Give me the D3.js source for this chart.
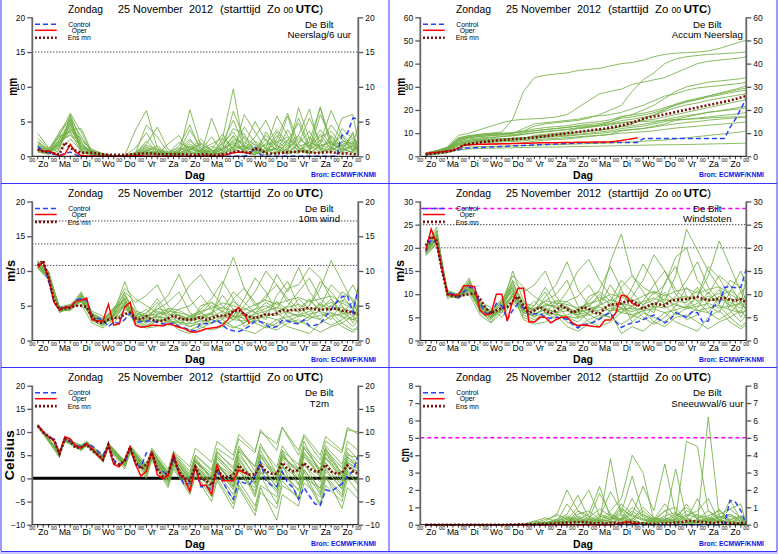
<!DOCTYPE html>
<meta charset="utf-8">
<script src="https://d3js.org/d3.v7.min.js"></script>
<body style="margin:0;background:#fff">
<div id="chart"></div>
</body>
<script>
// ---------- data ----------
const dayNames = ["Zo", "Ma", "Di", "Wo", "Do", "Vr", "Za", "Zo", "Ma", "Di", "Wo", "Do", "Vr", "Za", "Zo"];

// time grids (hours after start)
const hours6 = d3.range(6, 361, 6);                       // control / mean
const hoursOper = d3.range(6, 241, 6);                    // oper runs 10 days
const memberHours = d3.range(6, 360, 12).concat([360]);   // ensemble members
const memberHoursT2m = d3.range(0, 15).flatMap(d => [24 * d + 6, 24 * d + 12]).concat([360]);

// Neerslag / 6 uur (mm)
const precipControl = [1.4,0.8,0.5,0.3,0.1,0.4,0.6,0.2,0,0, 0,0,0,0,0,0,0,0,0,0, 0,0,0,0,0,0,0,0,0,0, 0,0,0,0,0,0,0,0,0,0.3, 1.3,0.2,0,0,0,0,0,0,0,0, 0,0,0,0,0,0,3.0,3.3,5.5,5.4];
const precipOper = [1.0,0.7,0.8,0.4,0.1,0.3,1.7,0.6,0.1,0.05, 0.05,0,0,0,0,0,0,0.05,0.1,0.05, 0,0,0,0,0,0,0,0,0,0, 0,0,0,0,0.1,0.3,0.5,0.6,0.6,0.4];
const precipMean = [1.0,0.7,0.6,0.4,0.3,2.0,1.2,0.8,0.5,0.5, 0.5,0.4,0.3,0.2,0.2,0.2,0.2,0.3,0.3,0.4, 0.4,0.4,0.3,0.3,0.3,0.3,0.3,0.3,0.2,0.2, 0.3,0.3,0.2,0.2,0.3,0.4,0.6,0.7,0.6,0.5, 1.2,0.9,0.4,0.4,0.4,0.5,0.6,0.6,0.7,0.7, 0.6,0.5,0.5,0.6,0.6,0.5,0.4,0.4,0.3,0.3];
const precipMembers = [
  [1.5,0.8,3.5,5.8,0.5,0.3,0.1,0,0,0.2, 1.0,0.3,0.1,0.4,1.5,0.6,0.2,2.5,9.7,1.0, 0.4,0.8,3.5,1.5,0.5,2.2,7.0,1.2,0.6,2.0, 0.8],
  [0.9,0.5,2.0,4.5,1.8,0.4,0,0,0.1,3.8, 6.6,1.2,0.3,0.2,0.8,2.0,0.5,0.3,1.2,4.2, 2.0,0.5,1.5,5.8,0.9,0.3,1.8,4.5,2.5,1.0, 0.5],
  [3.3,1.2,1.5,3.8,4.0,0.6,0.2,0,0,0.5, 4.5,2.8,0.6,0.3,6.7,1.5,0.4,1.0,3.0,0.5, 0.2,3.5,1.2,0.4,7.0,2.5,0.8,3.0,1.2,0.5, 0.3],
  [1.2,0.6,1.0,6.0,2.2,1.0,0.3,0.1,0,0.1, 0.3,0.2,1.8,3.0,0.5,0.2,5.5,1.5,0.6,6.0, 3.5,1.0,0.3,2.2,4.8,1.0,7.1,2.0,0.6,1.5, 4.5],
  [0.8,0.3,2.5,5.2,0.8,0.4,0.1,0.1,0,0.4, 2.2,0.6,0.2,1.0,2.5,0.5,1.0,3.2,0.8,1.5, 5.0,2.2,0.8,0.3,1.8,5.5,2.0,6.6,3.0,0.8, 1.2],
  [1.8,0.9,1.8,4.0,1.2,0.8,0,0,0.1,1.2, 3.4,0.8,0.4,0.6,3.8,1.2,0.2,0.6,2.0,0.6, 0.3,1.2,5.8,3.0,0.6,0.9,3.2,1.0,5.5,6.0, 2.0],
  [1.0,0.4,3.0,6.2,3.5,0.5,0.1,0,0,0, 0.5,0.3,0.2,0.3,0.6,0.3,0.4,0.9,6.5,2.5, 1.0,0.5,2.5,6.2,1.8,0.4,1.5,2.0,0.8,3.5, 1.0],
  [2.2,0.8,1.2,4.8,1.0,0.3,0.2,0,0,0.2, 0.8,1.5,0.4,2.0,1.2,0.3,0.2,1.5,4.0,3.2, 0.5,0.2,0.6,1.0,3.0,6.8,1.0,0.5,2.2,1.8, 0.6],
  [1.4,0.6,2.2,3.0,1.5,0.9,0.4,0.1,0,0.6, 1.8,4.2,1.0,0.4,0.3,0.8,2.8,0.6,2.2,1.0, 2.8,5.2,1.6,0.8,0.4,2.8,1.2,0.8,4.0,2.5, 1.5],
  [0.6,0.3,0.8,2.5,0.8,0.2,0,0,0,0.1, 0.2,0.6,0.2,0.1,0.4,0.2,0.1,0.4,1.0,0.5, 0.3,0.6,1.2,0.4,0.8,0.6,0.5,1.2,0.4,0.8, 0.3],
  [1.1,0.7,1.6,5.5,2.8,0.6,0.3,0.1,0.1,0.3, 1.4,0.5,0.3,1.5,4.5,0.8,0.3,2.0,5.2,1.5, 0.6,2.5,0.8,3.8,1.2,0.5,6.0,2.5,1.0,0.6, 2.8],
  [2.0,1.0,2.8,3.5,0.6,0.3,0.1,0,0,0.2, 0.6,0.4,0.1,0.5,1.0,2.5,0.8,0.2,1.6,0.8, 1.8,0.6,3.0,1.2,5.5,1.5,0.6,1.8,1.0,3.2, 0.6],
  [1.3,0.6,2.4,4.2,1.4,0.5,0.2,0,0,0.3, 1.2,0.9,0.3,0.6,2.2,1.0,0.6,1.8,3.5,1.2, 0.8,1.6,2.2,1.0,2.6,1.4,3.8,1.6,2.0,1.2, 0.9],
  [0.7,0.4,1.9,5.0,2.0,0.3,0.1,0,0,0.1, 0.6,0.3,0.2,0.8,1.8,0.6,1.4,0.8,2.4,2.0, 1.0,3.0,1.5,0.6,1.8,3.6,1.0,2.8,1.4,2.2, 1.0],
  [1.6,0.9,2.9,3.6,2.6,0.7,0.2,0.1,0,0.2, 0.9,0.5,0.5,0.3,0.9,1.8,0.9,0.5,1.4,2.8, 1.6,0.7,2.0,2.8,1.2,0.8,2.4,1.2,3.2,1.4, 0.7],
  [1.0,0.5,1.4,4.6,1.6,0.4,0.1,0,0,0.1, 0.4,0.7,0.3,0.4,1.2,0.5,0.8,1.2,1.8,0.9, 2.2,1.2,0.6,1.8,3.0,1.0,1.8,0.9,1.6,2.6, 1.8],
  [2.6,1.1,3.2,5.4,1.1,0.6,0.3,0.1,0,0.4, 1.6,1.0,0.6,1.2,0.7,0.9,1.8,2.6,1.1,1.6, 0.9,1.8,3.8,2.0,0.8,1.6,2.8,3.6,1.6,0.9, 1.4],
  [0.9,0.5,2.2,3.2,1.9,0.5,0.2,0,0,0.2, 0.7,0.4,0.2,0.9,1.4,0.7,0.4,1.0,2.8,1.4, 0.6,0.9,1.0,2.4,1.4,2.0,1.4,2.2,0.9,1.6, 0.8]
];

// Accum Neerslag (mm)
const accumControl = [1.0,1.2,1.5,1.8,2.2,2.5,2.7,3.5,3.6,3.7, 3.8,3.9,4.0,4.1,4.2,4.3,4.5,4.6,4.7,4.8, 4.9,5.0,5.1,5.2,5.3,5.4,5.5,5.6,5.7,5.8, 5.8,5.9,5.9,6.0,6.0,6.0,6.0,6.0,6.0,6.0, 7.6,7.7,7.7,7.7,7.7,7.7,7.7,7.7,7.7,7.7, 7.7,7.7,7.7,7.7,7.7,7.7,12.5,16.0,20.5,25.0];
const accumOper = [1.2,1.5,1.8,2.0,2.3,2.6,3.5,4.8,5.0,5.1, 5.2,5.2,5.3,5.3,5.4,5.4,5.5,5.5,5.6,5.6, 5.7,5.8,5.8,5.9,5.9,6.0,6.0,6.0,6.1,6.1, 6.1,6.2,6.2,6.2,6.3,6.5,6.8,7.2,7.6,8.0];
const accumMean = [0.8,1.1,1.4,1.7,2.0,2.5,3.5,4.8,5.3,5.7, 6.0,6.3,6.6,6.8,7.0,7.2,7.4,7.5,7.7,7.9, 8.1,8.4,8.7,9.0,9.3,9.6,9.9,10.2,10.5,10.8, 11.1,11.4,11.7,12.0,12.4,12.8,13.3,13.9,14.5,15.3, 16.2,16.8,17.2,17.6,18.1,18.6,19.1,19.6,20.1,20.6, 21.1,21.6,22.1,22.6,23.1,23.6,24.1,24.7,25.4,26.0];
const accumMembers = [
  [1.2,2.2,3.5,7.0,8.5,9.5,10.0,10.5,16.0,28.0, 34.0,35.0,35.5,36.0,37.0,37.5,38.0,39.0,40.0,40.5, 41.5,43.0,44.0,44.5,44.8,45.0,45.5,46.5,48.0,49.5, 50.0],
  [1.0,2.0,3.0,6.5,8.0,8.5,9.0,9.5,10.0,11.0, 13.0,14.0,14.5,15.0,15.5,16.5,18.0,20.0,22.0,28.0, 33.0,36.0,40.0,42.0,43.0,43.5,44.0,44.2,44.5,44.8, 45.0],
  [1.5,2.5,4.0,9.0,10.0,11.5,13.0,14.5,15.5,16.0, 16.2,16.5,17.0,18.0,21.0,24.0,27.0,28.0,29.0,31.0, 32.0,33.0,34.0,36.0,38.0,40.0,41.0,41.5,42.0,42.5, 43.0],
  [0.8,1.8,2.8,6.0,7.0,7.5,8.0,8.5,9.0,9.5, 10.0,10.5,11.0,11.5,12.0,12.5,13.5,15.0,17.0,18.0, 20.0,22.0,25.0,28.0,30.0,31.0,32.0,32.5,33.0,33.5, 34.0],
  [1.0,2.0,3.5,7.5,8.5,9.0,9.2,9.5,9.8,12.0, 14.0,14.5,15.0,15.5,16.0,17.0,17.5,18.0,19.0,20.5, 22.0,24.0,26.0,27.0,28.5,29.5,30.0,30.5,31.0,31.5, 32.0],
  [1.2,2.3,3.2,5.5,6.5,7.0,7.3,7.5,7.8,8.0, 8.5,9.0,9.5,10.0,10.5,11.0,11.5,12.0,13.0,14.0, 16.0,18.0,20.0,22.5,24.0,25.0,26.0,27.0,28.0,29.0, 29.5],
  [0.9,1.6,2.6,5.0,6.0,6.4,6.6,6.8,7.0,7.5, 9.0,9.5,10.0,10.5,12.0,12.5,13.0,13.5,14.5,15.0, 15.5,16.0,17.0,18.0,19.0,20.0,21.0,22.0,23.0,24.0, 24.5],
  [1.1,2.1,3.0,6.2,7.0,7.3,7.5,7.6,7.8,8.0, 8.2,8.5,8.8,9.0,9.5,10.0,10.5,11.0,12.0,12.5, 13.0,14.0,15.0,16.0,17.0,18.0,19.0,19.5,20.0,20.5, 21.0],
  [0.7,1.3,2.2,4.5,5.0,5.2,5.3,5.4,5.5,5.8, 6.5,7.0,7.2,7.5,8.0,8.5,9.0,9.5,11.0,11.5, 12.0,13.0,14.0,15.5,16.0,16.5,17.0,17.5,18.0,18.5, 19.0],
  [1.3,2.4,3.8,8.0,9.0,9.5,9.8,10.0,10.2,10.5, 11.0,11.5,12.0,12.5,13.0,13.2,13.5,14.0,14.5,14.8, 15.0,15.2,15.5,15.8,16.0,16.2,16.5,16.8,17.0,17.0, 17.0],
  [0.6,1.0,1.8,3.5,4.0,4.2,4.3,4.4,4.5,4.6, 4.8,5.0,5.0,5.2,5.3,5.5,5.6,5.8,6.0,6.2, 6.5,6.8,7.0,7.5,8.0,8.5,9.0,9.5,10.0,10.5, 11.0],
  [0.5,0.9,1.5,2.8,3.2,3.4,3.5,3.6,3.7,3.8, 3.9,4.0,4.0,4.1,4.2,4.3,4.4,4.5,4.6,4.7, 4.8,4.9,5.0,5.0,5.1,5.2,5.3,5.4,5.5,5.6, 5.7],
  [1.0,1.9,3.1,6.8,7.6,8.0,8.3,8.5,8.8,9.4, 10.2,10.8,11.2,11.6,12.4,13.0,13.4,14.2,15.4,16.0, 16.8,17.8,19.4,21.0,22.2,23.0,24.2,25.0,25.8,26.6, 27.0],
  [0.9,1.7,2.7,5.6,6.4,6.8,7.0,7.2,7.4,7.9, 8.6,9.0,9.3,9.6,10.3,10.8,11.2,11.8,12.8,13.2, 13.8,14.6,15.8,16.8,17.6,18.2,19.0,19.6,20.4,21.2, 21.6],
  [1.3,2.4,3.6,7.8,8.8,9.2,9.5,9.7,10.0,10.8, 11.8,12.4,12.8,13.2,14.0,14.6,15.0,15.8,17.2,17.8, 18.6,19.6,21.0,22.4,23.6,24.6,26.0,27.2,28.4,29.6, 30.5],
  [0.8,1.5,2.5,5.2,6.0,6.3,6.5,6.7,6.9,7.2, 7.8,8.2,8.4,8.7,9.2,9.6,9.9,10.4,11.2,11.6, 12.0,12.6,13.4,14.0,14.6,15.0,15.6,16.0,16.4,16.8, 17.0],
  [1.1,2.0,3.3,7.2,8.2,8.6,8.9,9.1,9.4,10.0, 11.0,11.6,12.0,12.4,13.2,13.8,14.2,15.0,16.4,17.0, 17.8,18.8,20.4,22.0,23.4,24.4,25.6,26.4,27.4,28.2, 28.6],
  [0.7,1.4,2.3,4.8,5.5,5.8,6.0,6.2,6.4,6.7, 7.2,7.5,7.7,8.0,8.4,8.8,9.0,9.4,10.0,10.3, 10.6,11.0,11.6,12.2,12.6,13.0,13.4,13.8,14.2,14.6, 14.8]
];

// 10m wind (m/s)
const windControl = [10.8,11.2,8.5,5.5,4.4,5.0,4.6,5.8,6.0,5.8, 3.6,3.2,3.0,2.0,2.6,2.5,3.0,4.0,2.6,2.7, 2.8,2.8,2.6,2.4,2.3,2.5,2.0,1.8,1.5,1.4, 2.5,2.4,2.5,3.0,2.2,1.6,1.4,1.3,1.6,2.1, 2.8,2.7,2.3,1.8,2.0,2.9,2.8,2.5,2.4,3.0, 2.1,2.2,2.4,3.5,4.5,5.5,6.3,6.5,4.0,7.5];
const windOper = [10.5,11.3,9.0,5.5,4.4,4.8,4.8,5.6,5.8,6.1, 3.0,2.8,2.8,5.2,2.2,2.4,4.8,5.5,2.2,1.9, 2.0,2.2,2.2,2.1,2.4,2.2,1.9,1.7,1.3,1.2, 1.4,1.7,1.8,1.9,2.2,3.0,4.2,4.7,3.8,2.4];
const windMean = [10.8,11.5,9.0,5.8,4.5,4.6,4.7,5.0,5.0,4.8, 3.4,2.7,2.5,3.0,3.3,3.2,3.8,4.0,3.2,3.0, 3.5,3.0,2.8,2.8,3.2,3.6,3.2,3.0,3.0,3.1, 3.4,3.0,3.2,3.5,3.6,3.6,4.2,4.4,3.8,3.4, 3.2,3.5,3.8,3.7,3.9,4.4,4.3,4.4,4.4,4.5, 4.7,4.5,4.4,4.5,4.5,4.6,4.3,4.2,4.0,3.8];
const windMembers = [
  [11.0,9.5,4.3,4.8,6.2,3.2,2.5,4.8,5.5,3.0, 2.8,3.5,2.5,3.0,2.0,2.5,3.5,8.0,12.0,7.5, 5.0,6.0,9.5,7.0,10.5,7.0,5.0,8.0,6.5,4.5, 7.8],
  [10.5,8.8,4.6,5.0,5.5,3.8,3.0,3.5,6.5,4.0, 3.5,4.5,5.5,7.0,4.0,3.0,2.5,3.5,4.5,3.0, 2.5,4.0,5.5,3.5,2.5,3.0,4.5,6.0,3.5,2.0, 3.0],
  [11.5,9.8,4.2,4.6,6.8,2.8,2.2,4.0,7.0,5.5, 6.5,8.0,5.0,3.5,3.0,4.5,6.0,8.5,6.0,3.5, 4.5,6.5,8.0,5.5,4.0,5.0,7.5,11.5,8.5,5.5, 4.0],
  [10.8,9.0,4.8,5.2,6.0,3.5,2.8,3.0,5.0,2.5, 2.0,2.8,3.2,2.0,1.5,2.2,3.0,2.5,1.8,2.5, 3.5,2.0,1.5,2.5,3.0,2.0,1.2,2.0,2.5,1.5, 2.0],
  [11.2,9.2,4.5,4.4,5.8,3.0,2.0,3.8,8.5,4.5, 3.0,5.0,6.5,9.5,6.0,4.0,5.5,4.0,3.0,5.0, 7.0,10.0,8.0,6.0,4.5,6.0,4.0,3.0,5.5,8.0, 6.5],
  [10.6,9.4,4.4,4.9,6.5,4.2,3.5,2.5,4.5,3.5, 4.5,3.0,2.2,2.8,3.5,2.0,1.5,2.0,3.0,4.0, 2.5,1.8,2.5,4.0,6.0,4.5,3.0,2.2,3.0,4.5, 3.5],
  [11.4,10.0,4.0,5.0,7.0,3.6,2.6,4.2,6.0,3.2, 2.5,3.8,4.0,5.5,8.0,9.5,7.0,5.0,3.5,2.5, 4.0,5.5,4.5,7.5,8.0,10.5,9.0,6.0,4.0,3.0, 5.0],
  [10.9,9.0,4.7,4.7,5.2,2.5,1.8,3.0,5.2,2.2, 1.8,2.0,2.8,1.5,1.0,1.8,2.5,3.0,2.0,1.5, 1.0,2.0,3.0,2.0,1.5,1.0,2.5,3.5,2.0,1.2, 1.8],
  [11.1,9.6,4.9,4.5,6.3,3.8,3.2,4.5,7.5,6.0, 5.0,4.0,3.5,4.5,5.0,6.5,4.5,3.0,6.0,7.5, 5.5,3.5,4.0,5.0,7.0,9.0,6.0,4.5,7.0,6.0, 4.5],
  [10.7,9.1,4.3,4.3,6.0,3.3,2.4,3.2,4.0,3.0, 4.0,6.0,4.0,2.5,2.0,3.0,4.0,6.5,4.5,2.0, 3.0,2.5,2.0,3.0,2.5,3.5,5.5,4.0,2.5,3.5, 2.5],
  [11.3,9.9,4.6,5.1,6.6,4.0,2.9,4.6,5.8,2.8, 2.2,3.0,4.5,3.5,2.5,5.0,5.5,4.5,7.0,5.5, 4.0,3.0,6.5,8.5,5.0,3.5,3.0,5.0,4.0,5.5, 6.0],
  [10.4,8.7,4.1,4.6,5.6,3.4,2.3,3.6,6.2,4.2, 3.8,5.5,3.0,2.2,3.5,4.0,3.0,2.5,3.5,6.0, 9.0,7.0,4.0,2.8,3.5,5.0,8.5,7.0,5.0,2.5, 3.8],
  [10.9,9.3,4.5,4.8,6.1,3.5,2.7,3.9,5.6,3.6, 3.2,4.2,3.8,3.6,3.2,3.5,4.0,4.8,4.2,3.8, 4.5,5.0,4.2,4.8,5.2,4.5,4.8,5.5,4.2,3.6, 4.2],
  [11.0,9.4,4.4,4.7,5.9,3.1,2.6,3.5,5.4,3.4, 3.0,3.4,3.2,3.8,2.8,3.2,3.4,4.2,3.6,3.2, 3.8,4.2,4.8,4.0,3.6,4.2,5.2,4.4,4.8,4.0, 3.6],
  [11.2,9.7,4.6,5.0,6.4,3.7,3.0,4.2,6.8,3.8, 3.4,4.6,4.2,4.0,3.6,4.2,4.6,5.4,5.0,4.4, 5.2,5.8,5.2,5.8,6.2,5.6,6.0,6.4,5.4,4.6, 5.2],
  [10.6,9.0,4.2,4.5,5.7,3.2,2.4,3.4,5.0,3.0, 2.6,3.0,2.8,2.6,2.4,2.8,3.0,3.6,3.0,2.8, 3.2,3.4,3.0,3.4,3.8,3.2,3.6,4.0,3.4,3.0, 3.2],
  [11.1,9.5,4.7,4.9,6.3,3.4,2.8,4.4,6.0,3.4, 3.6,3.8,4.6,4.4,3.4,3.8,5.0,4.2,5.6,4.6, 4.0,4.6,5.6,4.4,4.2,5.8,4.4,5.0,5.8,4.8, 4.4],
  [10.8,9.2,4.4,4.6,6.0,3.3,2.5,3.7,5.2,3.2, 2.8,3.6,3.0,3.2,3.0,3.4,3.8,3.2,3.4,3.6, 3.4,3.8,3.6,4.2,3.4,3.8,4.2,3.6,3.8,4.2, 3.4]
];

// Windstoten (m/s)
const gustControl = [19.2,21.8,21.0,15.0,10.5,10.0,9.3,10.5,11.5,11.3, 8.0,6.0,5.5,8.0,7.5,4.5,6.5,8.0,7.0,5.5, 5.8,5.8,5.0,4.8,5.0,4.8,4.6,3.5,2.7,3.4, 3.6,4.0,4.6,5.5,6.0,4.0,2.8,3.4,3.8,4.0, 4.5,5.0,5.5,4.5,3.8,4.5,6.0,5.5,5.0,6.2, 6.0,4.0,4.2,7.5,8.0,11.5,11.6,11.4,11.5,15.5];
const gustOper = [19.5,24.0,21.0,15.5,10.0,9.8,9.8,11.8,11.8,11.6, 6.5,5.5,5.8,10.0,10.0,4.2,8.5,11.3,11.3,4.0, 4.0,5.0,5.0,3.8,4.5,5.0,5.0,3.8,3.2,3.4, 3.2,3.0,2.9,4.4,4.4,6.0,9.8,9.5,8.0,7.5];
const gustMean = [20.5,22.5,21.5,15.0,10.0,9.5,9.5,9.8,10.0,10.2, 9.0,7.0,5.8,6.5,7.0,7.2,8.5,9.5,7.5,6.0, 6.5,7.2,6.5,5.8,6.5,7.5,6.8,6.0,6.5,7.2, 6.8,6.0,5.8,7.0,7.8,7.8,8.0,8.5,8.5,7.8, 6.8,7.5,8.0,7.8,7.5,8.5,8.8,8.8,9.0,9.2, 9.4,9.0,8.7,8.8,9.0,9.2,8.8,8.6,8.9,8.2];
const gustMembers = [
  [19.5,22.0,10.2,9.5,11.5,7.0,5.5,8.5,10.5,6.0, 5.5,7.0,6.0,7.5,5.0,6.0,8.0,17.0,23.0,14.0, 11.5,10.0,12.0,18.0,20.0,13.0,10.0,14.0,12.0,8.0, 13.5],
  [18.5,21.0,10.5,9.8,10.5,8.0,6.0,6.5,12.0,7.5, 6.5,8.5,10.0,13.0,7.5,5.5,4.5,6.5,8.0,5.5, 4.5,7.5,10.0,6.5,4.5,5.5,8.5,11.0,6.5,4.0, 5.5],
  [20.0,23.5,9.5,9.2,13.0,6.0,4.5,7.5,13.0,10.5, 12.0,15.0,9.5,6.5,5.5,8.5,11.0,16.0,11.0,6.5, 8.5,12.0,15.0,10.0,7.5,9.5,14.0,21.5,16.0,10.5, 7.5],
  [19.0,22.5,10.8,10.0,11.8,7.5,6.0,6.0,9.5,5.0, 4.0,5.5,6.0,4.0,3.0,4.5,5.5,5.0,3.5,5.0, 6.5,4.0,3.0,5.0,5.5,4.0,2.5,4.0,5.0,3.0, 4.0],
  [19.8,21.8,10.0,9.0,11.0,6.5,4.0,7.0,15.0,8.5, 6.0,9.5,12.0,17.0,11.0,7.5,10.0,7.5,6.0,9.5, 13.0,18.5,15.0,11.0,8.5,11.5,7.5,6.0,10.5,15.0, 12.0],
  [18.8,22.2,9.8,9.6,12.5,8.5,7.0,5.0,8.5,6.5, 8.5,6.0,4.5,5.5,6.5,4.0,3.0,4.0,6.0,7.5, 5.0,3.5,5.0,7.5,11.5,8.5,6.0,4.5,6.0,8.5, 6.5],
  [20.2,24.5,9.0,10.2,13.5,7.2,5.2,8.0,11.0,6.5, 5.0,7.5,7.5,10.5,15.0,17.5,13.0,9.5,7.0,5.0, 7.5,10.5,8.5,14.0,24.0,19.5,15.0,11.5,7.5,6.0, 9.5],
  [19.2,21.5,10.4,9.4,10.0,5.5,3.8,6.0,10.0,4.5, 3.5,4.0,5.5,3.0,2.0,3.5,5.0,6.0,1.5,3.0, 2.0,4.0,6.0,4.0,3.0,2.0,5.0,6.5,4.0,2.5, 3.5],
  [19.6,23.0,10.6,9.1,12.0,7.8,6.5,8.5,14.0,11.5, 9.5,8.0,7.0,8.5,9.5,12.0,8.5,6.0,11.5,14.0, 10.5,7.0,8.0,9.5,13.0,17.0,11.5,8.5,13.0,11.5, 8.5],
  [18.6,21.2,10.1,9.3,11.2,6.8,5.0,6.4,8.0,6.0, 7.5,11.5,8.0,5.0,4.0,6.0,7.5,12.0,8.5,4.0, 6.0,5.0,4.0,6.0,5.0,7.0,10.5,7.5,5.0,6.5, 5.0],
  [19.9,23.8,10.3,9.9,12.8,8.2,6.2,9.0,11.5,5.5, 4.5,6.0,8.5,7.0,5.0,9.5,10.5,8.5,13.0,10.5, 7.5,6.0,12.5,16.0,9.5,6.5,6.0,9.5,7.5,10.5, 11.5],
  [18.3,20.8,9.7,9.5,10.8,7.0,4.8,7.2,12.5,8.0, 7.5,10.5,6.0,4.5,7.0,7.5,6.0,5.0,7.0,11.5, 16.5,13.0,7.5,5.5,7.0,9.5,16.0,13.5,9.5,5.0, 7.0],
  [19.4,22.3,10.2,9.6,11.4,7.4,5.8,7.6,10.8,7.0, 6.4,7.8,7.2,7.0,6.2,6.8,7.6,8.8,8.0,7.4, 8.4,9.2,8.0,9.0,9.6,8.6,9.0,10.2,8.2,7.0, 8.0],
  [19.1,22.0,10.0,9.4,11.0,6.6,5.2,6.8,10.2,6.6, 5.8,6.6,6.2,7.2,5.6,6.2,6.6,7.8,7.0,6.2, 7.2,8.0,9.0,7.6,7.0,8.0,9.6,8.4,9.0,7.6, 7.0],
  [19.7,22.8,10.4,9.8,12.2,7.8,6.2,8.2,12.8,7.4, 6.8,8.6,8.0,7.8,7.0,8.0,8.6,10.0,9.4,8.4, 9.6,10.6,9.6,10.6,11.2,10.2,11.0,11.6,10.0,8.6, 9.6],
  [18.9,21.6,9.9,9.2,10.6,6.4,4.8,6.6,9.6,6.0, 5.2,6.0,5.6,5.2,4.8,5.6,6.0,7.0,6.0,5.6, 6.4,6.8,6.0,6.6,7.4,6.4,7.0,7.6,6.6,6.0, 6.4],
  [19.6,22.6,10.3,9.7,11.9,7.2,5.6,8.4,11.4,6.8, 7.0,7.4,8.6,8.4,6.6,7.4,9.4,8.0,10.4,8.8, 7.8,8.8,10.4,8.4,8.2,10.8,8.4,9.4,10.8,9.0, 8.4],
  [19.0,21.9,10.1,9.5,11.2,6.9,5.0,7.0,10.0,6.4, 5.6,7.0,6.0,6.4,6.0,6.6,7.2,6.4,6.8,7.0, 6.6,7.4,7.0,8.0,6.8,7.4,8.0,7.0,7.4,8.0, 6.8]
];

// T2m (Celsius)
const t2mControl = [11.5,10.0,9.0,8.5,5.5,8.5,8.0,7.0,7.0,7.5, 7.0,6.0,5.0,7.0,4.0,3.0,3.5,6.5,3.0,2.5, 5.5,5.5,2.0,1.5,0.8,4.5,1.0,-1.5,-1.0,2.5, -1.8,-1.8,-2.5,1.5,-0.5,-2.8,-4.5,-0.5,-1.0,-1.3, 0.5,3.5,-0.5,-1.5,-1.8,1.5,-1.0,-2.0,-4.5,-2.0, -3.8,-5.5,-5.8,-2.5,-2.8,-2.0,-1.2,0.5,1.5,5.0];
const t2mOper = [11.5,10.0,9.0,8.0,5.5,9.0,8.5,7.0,6.5,7.5, 6.5,5.0,4.0,7.0,3.0,2.5,4.0,6.8,3.0,0.5, 1.5,5.8,0.8,0.0,0.5,5.3,1.0,0.0,-2.8,2.5, -1.5,-1.5,-3.5,3.0,-0.5,-0.5,-0.5,1.8,1.2,0.8];
const t2mMean = [11.3,10.0,9.0,8.3,5.3,8.5,8.0,6.5,6.8,7.3, 6.0,5.2,4.0,7.3,3.5,3.0,3.8,6.7,3.5,2.0, 3.0,5.5,2.0,0.5,1.0,4.5,1.5,0.0,-0.5,2.5, 0.0,-0.5,-1.5,2.0,0.5,0.3,0.8,2.8,1.5,0.8, 0.8,3.0,1.5,1.0,1.0,3.4,2.0,1.5,1.8,3.3, 2.2,1.5,1.5,3.0,1.5,1.0,1.2,2.8,1.5,1.0];
const t2mMembers = [
  [11.5,10.2, 5.0,8.8, 6.5,7.8, 4.0,7.5, 3.5,7.0, 2.0,6.0, 1.0,5.5, 1.5,5.0, 2.0,6.5, 4.0,8.5, 5.5,10.5, 6.0,11.0, 5.0,9.0, 4.0,8.0, 5.5,10.5, 10.0],
  [11.2,9.8, 5.5,8.2, 6.8,7.2, 4.8,6.5, 2.8,6.0, 0.5,4.5, -1.5,2.5, -3.0,1.0, -4.0,0.0, -5.5,-1.5, -7.0,-2.0, -9.0,-3.5, -6.0,-1.0, -4.0,0.5, -3.5,1.0, -1.0],
  [11.4,9.6, 4.5,9.0, 6.0,7.0, 3.5,6.8, 3.0,6.5, 1.5,5.5, 0.0,4.0, -1.0,3.5, 0.5,5.0, 1.0,4.5, -1.0,3.0, -2.0,2.5, 0.0,5.5, 1.5,6.0, 0.5,4.5, 3.0],
  [11.0,10.0, 5.8,8.0, 6.2,7.6, 4.5,7.2, 3.5,6.2, 2.5,5.0, 1.5,4.5, -0.5,2.0, -2.5,1.5, -3.5,0.5, -2.0,2.0, -1.0,4.5, 2.0,7.0, 3.0,6.5, 1.0,5.0, 4.5],
  [11.6,9.9, 5.2,8.6, 7.0,7.4, 4.2,7.0, 2.5,5.8, 1.0,4.8, -0.5,3.0, -2.0,2.0, -1.0,3.0, 0.5,6.0, 2.5,7.5, 1.0,6.0, -1.5,3.5, -3.0,1.5, -2.0,2.5, 1.5],
  [11.3,9.7, 5.6,8.4, 6.6,7.5, 4.6,7.3, 3.2,6.6, 2.2,5.8, 1.0,5.0, 0.5,4.5, -0.5,3.5, -1.5,2.5, -4.0,0.5, -5.5,-0.5, -4.5,0.5, -6.0,-1.5, -5.0,0.0, -3.0],
  [11.4,10.1, 4.8,8.9, 6.3,7.1, 3.8,6.6, 2.0,5.5, 0.0,4.0, -2.0,2.0, -3.5,0.5, -5.0,-0.5, -6.5,-2.0, -8.0,-3.0, -6.5,-1.5, -4.0,0.0, -2.0,2.5, -1.5,3.5, 2.0],
  [11.2,10.0, 5.4,8.5, 7.2,8.0, 5.0,7.6, 3.8,7.2, 3.0,6.5, 2.0,5.8, 2.5,6.5, 3.5,8.0, 5.0,9.5, 6.0,10.0, 7.5,11.0, 6.0,9.5, 5.0,9.0, 6.0,11.0, 9.5],
  [11.1,9.5, 5.1,8.0, 6.0,7.2, 4.0,6.9, 2.6,6.0, 1.2,5.2, -1.0,3.0, -2.5,2.5, -3.0,2.0, -2.0,3.5, -3.5,1.5, -2.5,3.0, -4.5,1.5, -5.5,0.0, -4.0,1.5, -1.5],
  [11.5,9.8, 5.3,8.7, 6.7,7.7, 4.4,7.4, 3.4,6.8, 1.8,5.6, 0.5,4.2, 0.0,3.8, 1.0,5.5, 2.5,7.0, 1.5,6.0, 0.0,5.0, 1.5,6.5, 2.0,7.0, 3.0,8.0, 6.0],
  [11.3,10.1, 5.7,8.3, 6.4,7.3, 4.1,7.1, 2.9,6.3, 1.6,5.0, 0.0,3.5, -1.5,3.0, -2.5,1.0, -4.5,-0.5, -6.0,-1.5, -4.0,1.0, -2.5,2.0, -3.5,0.5, -6.5,-2.0, -4.5],
  [11.4,9.9, 4.9,8.1, 6.9,7.9, 4.7,7.5, 3.6,6.4, 2.8,6.2, 0.8,4.8, 0.5,4.0, -1.5,2.5, 0.0,4.0, -1.0,4.5, 0.5,6.0, 3.0,8.0, 1.0,5.5, -0.5,4.0, 2.5],
  [11.3,10.0, 5.2,8.6, 6.6,7.6, 4.4,7.2, 3.2,6.6, 1.8,5.6, 0.6,4.4, 0.2,4.0, 0.0,4.2, 0.6,5.0, 0.8,5.2, 1.0,5.4, 0.6,5.0, 0.2,4.6, 0.4,4.8, 2.0],
  [11.4,9.8, 5.4,8.4, 6.8,7.4, 4.6,7.0, 3.0,6.2, 1.4,5.0, 0.0,3.6, -0.8,3.0, -1.2,2.8, -1.0,3.2, -1.4,2.6, -1.8,2.4, -1.2,3.0, -0.8,3.4, -1.0,3.0, 0.5],
  [11.2,10.1, 5.0,8.8, 6.4,7.8, 4.2,7.4, 3.4,6.9, 2.4,6.0, 1.4,5.2, 1.0,5.0, 1.6,5.8, 2.0,6.4, 2.6,6.8, 2.4,7.0, 2.0,6.6, 1.6,6.2, 2.2,6.6, 4.0],
  [11.5,9.9, 5.6,8.2, 6.5,7.2, 4.3,6.8, 2.7,6.0, 1.0,4.6, -0.6,3.2, -1.6,2.4, -2.0,2.0, -2.4,1.6, -2.8,1.2, -3.0,1.4, -2.6,1.8, -2.2,2.0, -2.4,1.8, -0.5],
  [11.3,10.0, 5.3,8.5, 6.7,7.5, 4.5,7.1, 3.1,6.4, 1.6,5.4, 0.4,4.2, -0.2,3.6, 0.4,4.6, 1.2,5.8, 0.2,5.0, -0.6,4.2, 0.0,4.6, 0.8,5.4, 1.2,5.6, 3.0],
  [11.4,9.7, 5.1,8.3, 6.3,7.3, 4.0,6.9, 2.9,6.1, 1.3,5.1, 0.2,3.8, -1.0,2.8, -0.6,3.4, -1.8,2.2, -0.8,3.6, 0.6,4.8, 1.4,5.6, 0.4,4.4, -0.4,3.6, 1.0]
];

// Sneeuwval / 6 uur (cm)
const snowControl = [0,0,0,0,0,0,0,0,0,0, 0,0,0,0,0,0,0,0,0,0, 0,0,0,0,0,0,0,0,0,0, 0,0,0,0,0,0,0,0,0,0, 0,0,0,0,0,0,0,0,0,0, 0,0,0,0,0,0.05,1.4,1.3,0.8,0];
const snowOper = [0,0,0,0,0,0,0,0,0,0, 0,0,0,0,0,0,0,0,0,0, 0,0,0,0,0,0,0,0,0,0, 0,0,0,0,0,0.02,0.1,0.18,0.08,0.05];
const snowMean = [0,0,0,0,0,0,0,0,0,0, 0,0,0,0,0,0,0.01,0.02,0.02,0.03, 0.03,0.04,0.05,0.06,0.08,0.1,0.12,0.12,0.15,0.15, 0.12,0.1,0.1,0.08,0.1,0.12,0.1,0.12,0.15,0.1, 0.08,0.05,0.04,0.04,0.06,0.08,0.12,0.15,0.2,0.22, 0.18,0.15,0.12,0.1,0.14,0.12,0.08,0.06,0.1,0.12];
const snowMembers = [
  [0,0,0,0,0,0,0,0,0,0, 0.1,0.3,0.5,2.0,0.8,0.3,0.2,3.8,0.5,0.2, 0.1,0,0.3,0.6,0.2,0.1,6.2,0.5,0.2,0.1, 0],
  [0,0,0,0,0,0,0,0,0,0.05, 0.2,0.1,0.3,0.6,1.7,0.4,0.2,0.8,1.5,4.0, 3.0,0.2,0.1,0.4,4.8,4.5,0.8,0.3,0.1,0, 0],
  [0,0,0,0,0,0,0,0,0,0, 0,0.2,0.6,0.3,1.0,2.0,0.5,0.3,1.2,0.6, 2.2,0.8,3.5,0.6,0.3,1.5,0.2,0.1,1.4,0.3, 0],
  [0,0,0,0,0,0,0,0,0,0, 0.1,0.1,0.2,0.4,0.3,0.6,2.2,0.4,0.2,0.8, 0.3,0.1,0.2,3.2,0.4,0.1,0.3,0.9,0.2,0.1, 0],
  [0,0,0,0,0,0,0,0,0,0, 0,0.05,0.1,1.2,0.4,0.2,0.3,0.2,0.6,0.3, 1.0,0.4,0.2,0.1,0.5,0.8,1.5,0.2,0.1,0.5, 0],
  [0,0,0,0,0,0,0,0,0,0, 0.2,0.4,0.2,0.1,0.5,0.3,1.8,0.6,0.3,0.2, 0.1,0.3,0.8,1.0,0.2,0.1,0.4,0.3,0.9,1.2, 0],
  [0,0,0,0,0,0,0,0,0,0, 0,0,0.1,0.3,0.2,0.1,0.4,1.9,0.8,0.2, 0.6,0.2,0.1,0.2,0.1,0.3,0.2,0.5,0.2,0.1, 0],
  [0,0,0,0,0,0,0,0,0,0, 0,0.1,0.3,0.1,0.8,0.5,0.2,0.1,0.3,1.5, 0.4,0.1,0.2,0.5,1.0,0.3,0.1,0.2,0.6,0.2, 0],
  [0,0,0,0,0,0,0,0,0,0, 0,0,0,0.1,0.2,0.1,0,0.2,0.1,0, 0.1,0.3,0.2,0.1,0,0.2,0.4,0.2,0.1,0, 0],
  [0,0,0,0,0,0,0,0,0,0, 0,0,0,0,0,0.1,0.1,0,0,0.2, 0.1,0,0,0,0.1,0,0.1,0,0,0.1, 0],
  [0,0,0,0,0,0,0,0,0,0, 0,0,0,0,0,0,0,0,0.1,0.1, 0,0,0,0,0,0,0,0,0,0, 0],
  [0,0,0,0,0,0,0,0,0,0, 0,0.1,0.2,0.4,0.2,0,0.5,0.3,1.0,0.4, 0,0.2,0.8,0.3,0.1,0,0.3,0.6,0.9,0.4, 0],
  [0,0,0,0,0,0,0,0,0,0, 0.05,0.1,0.2,0.5,0.3,0.2,0.6,0.4,0.3,0.6, 0.2,0.4,0.3,0.2,0.6,0.4,0.5,0.8,0.3,0.2, 0],
  [0,0,0,0,0,0,0,0,0,0, 0,0.1,0.1,0.2,0.6,0.8,0.3,0.2,0.9,0.5, 0.3,0.2,0.5,0.7,0.3,0.2,0.2,0.4,0.6,0.3, 0],
  [0,0,0,0,0,0,0,0,0,0, 0,0,0.1,0.3,0.1,0.4,0.9,0.5,0.2,0.3, 0.8,0.3,1.2,0.4,0.2,0.6,0.3,0.2,0.3,0.5, 0],
  [0,0,0,0,0,0,0,0,0,0, 0,0,0,0.2,0.4,0.2,0.1,0.6,0.3,1.0, 0.5,0.2,0.1,0.3,0.8,0.5,0.2,0.1,0.2,0.1, 0],
  [0,0,0,0,0,0,0,0,0,0, 0,0,0,0,0.1,0.3,0.2,0.1,0.4,0.2, 0.1,0.1,0.4,0.2,0.1,0.1,0.3,0.2,0.1,0, 0],
  [0,0,0,0,0,0,0,0,0,0, 0,0.05,0.2,0.1,0.3,0.1,0.2,0.3,0.7,2.8, 0.6,0.3,0.2,0.3,1.2,0.3,0.8,0.4,0.5,0.2, 0]
];

// ---------- panel setup ----------
const panels = [
  {col: 0, row: 0, unit: "mm", unitLen: 18, unitX: 12.5, name: "Neerslag/6 uur", domain: [0, 20], ticks: [0, 5, 10, 15, 20],
   control: precipControl, oper: precipOper, mean: precipMean, members: precipMembers, mHours: memberHours,
   refs: [{v: 15, kind: "dot"}]},
  {col: 1, row: 0, unit: "mm", unitLen: 18, unitX: 13, name: "Accum Neerslag", domain: [0, 60], ticks: [0, 10, 20, 30, 40, 50, 60],
   control: accumControl, oper: accumOper, mean: accumMean, members: accumMembers, mHours: memberHours,
   refs: []},
  {col: 0, row: 1, unit: "m/s", unitLen: 22, unitX: 10.5, name: "10m wind", domain: [0, 20], ticks: [0, 5, 10, 15, 20],
   control: windControl, oper: windOper, mean: windMean, members: windMembers, mHours: memberHours,
   refs: [{v: 10.8, kind: "dot"}, {v: 13.9, kind: "dot"}, {v: 17.2, kind: "dot"}]},
  {col: 1, row: 1, unit: "m/s", unitLen: 22, unitX: 11.5, name: "Windstoten", domain: [0, 30], ticks: [0, 5, 10, 15, 20, 25, 30],
   control: gustControl, oper: gustOper, mean: gustMean, members: gustMembers, mHours: memberHours,
   refs: [{v: 20, kind: "dot"}, {v: 25, kind: "dot"}, {v: 28.5, kind: "magenta"}]},
  {col: 0, row: 2, unit: "Celsius", unitLen: 50, unitX: 9.5, name: "T2m", domain: [-10, 20], ticks: [-10, -5, 0, 5, 10, 15, 20],
   control: t2mControl, oper: t2mOper, mean: t2mMean, members: t2mMembers, mHours: memberHoursT2m,
   refs: [{v: 0, kind: "zero"}]},
  {col: 1, row: 2, unit: "cm", unitLen: 14, unitX: 16.5, name: "Sneeuwval/6 uur", domain: [0, 8], ticks: [0, 1, 2, 3, 4, 5, 6, 7, 8],
   control: snowControl, oper: snowOper, mean: snowMean, members: snowMembers, mHours: memberHours,
   refs: [{v: 5, kind: "magenta"}]}
];

const W = 778, H = 554;
const FONT = "'Liberation Sans', Arial, Helvetica, sans-serif";
const colX = [0, 388];
const rowY = [0, 184.2, 368.4];

const svg = d3.select("#chart").append("svg")
  .attr("width", W).attr("height", H)
  .style("display", "block")
  .style("font-family", FONT);

svg.append("rect").attr("width", W).attr("height", H).attr("fill", "#fff");

panels.forEach(drawPanel);

function drawPanel(p) {
  const x0 = colX[p.col], y0 = rowY[p.row];
  const left = x0 + 32.3, right = x0 + 358.3, top = y0 + 17.3, bottom = y0 + 156.3;
  const x = d3.scaleLinear().domain([0, 360]).range([left, right]);
  const y = d3.scaleLinear().domain(p.domain).range([bottom, top]);
  const g = svg.append("g");

  // title
  const titleY = top - 4.8;
  g.append("text").attr("x", x0 + 68).attr("y", titleY).attr("font-size", 11)
    .attr("textLength", 35).attr("lengthAdjust", "spacingAndGlyphs").text("Zondag");
  g.append("text").attr("x", x0 + 118).attr("y", titleY).attr("font-size", 11)
    .attr("textLength", 95).attr("lengthAdjust", "spacingAndGlyphs")
    .style("white-space", "pre").text("25 November  2012");
  const t3 = g.append("text").attr("x", x0 + 220).attr("y", titleY).attr("font-size", 11)
    .attr("textLength", 103).attr("lengthAdjust", "spacingAndGlyphs").style("white-space", "pre");
  t3.append("tspan").text("(starttijd  Zo ");
  t3.append("tspan").attr("font-size", 8.5).text("00 ");
  t3.append("tspan").attr("font-weight", "bold").text("UTC");
  t3.append("tspan").text(")");

  // reference lines
  p.refs.forEach(r => {
    const ln = g.append("line").attr("x1", left).attr("x2", right)
      .attr("y1", y(r.v)).attr("y2", y(r.v));
    if (r.kind === "dot") ln.attr("stroke", "#000").attr("stroke-width", 1).attr("stroke-dasharray", "1,2");
    if (r.kind === "magenta") ln.attr("stroke", "#ff00ff").attr("stroke-width", 1.5).attr("stroke-dasharray", "4,3");
    if (r.kind === "zero") ln.attr("stroke", "#000").attr("stroke-width", 3);
  });

  // clip for the data
  const clipId = "clip" + p.col + p.row;
  svg.append("clipPath").attr("id", clipId).append("rect")
    .attr("x", left).attr("y", top - 2).attr("width", right - left).attr("height", bottom - top + 4);
  const plot = g.append("g").attr("clip-path", `url(#${clipId})`);

  const lineFor = hours => d3.line().x((d, i) => x(hours[i])).y(d => y(d));

  plot.selectAll("path.member").data(p.members).join("path")
    .attr("class", "member")
    .attr("d", lineFor(p.mHours))
    .attr("fill", "none").attr("stroke", "#73b047").attr("stroke-width", 1)
    .attr("stroke-opacity", 0.85);

  plot.append("path").datum(p.control).attr("d", lineFor(hours6))
    .attr("fill", "none").attr("stroke", "#2b40ff").attr("stroke-width", 1.5).attr("stroke-dasharray", "5,3");
  plot.append("path").datum(p.oper).attr("d", lineFor(hoursOper))
    .attr("fill", "none").attr("stroke", "#ff0000").attr("stroke-width", 1.5);
  plot.append("path").datum(p.mean).attr("d", lineFor(hours6))
    .attr("fill", "none").attr("stroke", "#7a0f0f").attr("stroke-width", 2.6).attr("stroke-dasharray", "2,2");

  // y axes
  const yl = g.append("g").attr("transform", `translate(${left},0)`)
    .call(d3.axisLeft(y).tickValues(p.ticks).tickSize(5).tickPadding(2).tickFormat(d3.format("d")));
  const yr = g.append("g").attr("transform", `translate(${right},0)`)
    .call(d3.axisRight(y).tickValues(p.ticks).tickSize(5).tickPadding(2).tickFormat(d3.format("d")));
  [yl, yr].forEach(a => {
    a.select(".domain").remove();
    a.selectAll(".tick line").attr("stroke", "#555").attr("stroke-width", 1.3);
    a.selectAll(".tick text").attr("font-size", 8.5).attr("font-family", FONT).attr("fill", "#111");
  });
  g.append("line").attr("x1", left).attr("x2", left).attr("y1", top).attr("y2", bottom)
    .attr("stroke", "#666").attr("stroke-width", 1.8);
  g.append("line").attr("x1", right).attr("x2", right).attr("y1", top).attr("y2", bottom)
    .attr("stroke", "#666").attr("stroke-width", 1.8);

  // x axis
  g.append("line").attr("x1", left).attr("x2", right).attr("y1", bottom).attr("y2", bottom)
    .attr("stroke", "#000").attr("stroke-width", 1);
  g.selectAll("line.minor").data(d3.range(6, 360, 6).filter(h => h % 24 !== 0)).join("line")
    .attr("class", "minor")
    .attr("x1", d => x(d)).attr("x2", d => x(d))
    .attr("y1", bottom).attr("y2", bottom + 3)
    .attr("stroke", "#000").attr("stroke-width", 0.8);
  g.selectAll("text.hh").data(d3.range(0, 361, 24)).join("text")
    .attr("class", "hh")
    .attr("x", d => x(d)).attr("y", bottom + 5.3)
    .attr("text-anchor", "middle").attr("font-size", 5.5).attr("fill", "#000")
    .text("00");
  g.selectAll("text.day").data(dayNames).join("text")
    .attr("class", "day")
    .attr("x", (d, i) => x(24 * i + 12)).attr("y", bottom + 10.6)
    .attr("text-anchor", "middle").attr("font-size", 8.6).attr("fill", "#000")
    .text(d => d);

  g.append("text").attr("x", x0 + 195).attr("y", bottom + 22.8)
    .attr("text-anchor", "middle").attr("font-size", 10.5).attr("font-weight", "bold")
    .text("Dag");
  g.append("text").attr("x", x0 + 376).attr("y", bottom + 21)
    .attr("text-anchor", "end").attr("font-size", 6.5).attr("font-weight", "bold")
    .attr("fill", "#1010ee").attr("textLength", 65).attr("lengthAdjust", "spacingAndGlyphs")
    .text("Bron: ECMWF/KNMI");

  // y label
  g.append("text")
    .attr("transform", `translate(${x0 + p.unitX},${(top + bottom) / 2}) rotate(-90)`)
    .attr("text-anchor", "middle").attr("dominant-baseline", "central")
    .attr("font-size", 12).attr("font-weight", "bold")
    .attr("textLength", p.unitLen).attr("lengthAdjust", "spacingAndGlyphs")
    .text(p.unit);

  // station / variable label
  g.append("text").attr("x", left + 287).attr("y", top + 10.2)
    .attr("text-anchor", "middle").attr("font-size", 9.7).text("De Bilt");
  g.append("text").attr("x", left + 287).attr("y", top + 20.8)
    .attr("text-anchor", "middle").attr("font-size", 9.7).text(p.name);

  // legend
  const lg = [
    {label: "Control", stroke: "#2b40ff", w: 1.5, dash: "5,3"},
    {label: "Oper", stroke: "#ff0000", w: 1.5, dash: null},
    {label: "Ens mn", stroke: "#7a0f0f", w: 2.6, dash: "2,2"}
  ];
  const lgY = [7, 13, 20.4];
  lg.forEach((d, i) => {
    const ly = top + lgY[i];
    g.append("line").attr("x1", left + 2.7).attr("x2", left + 24.4).attr("y1", ly).attr("y2", ly)
      .attr("stroke", d.stroke).attr("stroke-width", d.w).attr("stroke-dasharray", d.dash);
    g.append("text").attr("x", left + 47).attr("y", ly + 2.6)
      .attr("text-anchor", "middle").attr("font-size", 6.8).text(d.label);
  });
}

// panel frames
const frame = svg.append("g").attr("stroke", "#3535ff").attr("stroke-width", 1);
frame.append("line").attr("x1", 1).attr("x2", 1).attr("y1", 0).attr("y2", 551);
frame.append("line").attr("x1", 777).attr("x2", 777).attr("y1", 0).attr("y2", 551);
frame.append("line").attr("x1", 389).attr("x2", 389).attr("y1", 0).attr("y2", 551);
frame.append("line").attr("x1", 1).attr("x2", 777).attr("y1", 183.5).attr("y2", 183.5);
frame.append("line").attr("x1", 1).attr("x2", 777).attr("y1", 367.5).attr("y2", 367.5);
frame.append("line").attr("x1", 1).attr("x2", 777).attr("y1", 551.5).attr("y2", 551.5);
svg.append("rect").attr("x", 0).attr("y", 552).attr("width", W).attr("height", 2).attr("fill", "#c8c8ff");
</script>
